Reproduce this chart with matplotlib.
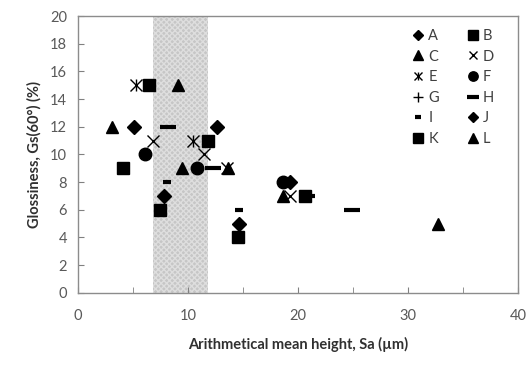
import matplotlib
matplotlib.use("Agg")
import matplotlib.pyplot as plt
from matplotlib.lines import Line2D

plt.rcParams['font.family'] = ['Lato', 'DejaVu Sans']

# Sa (um) and glossiness (%) for each sample group
names = ['A', 'B', 'C', 'D', 'E', 'F', 'G', 'H', 'I', 'J', 'K', 'L']
sa = {
    'A': [5.1, 12.6],
    'B': [6.4, 11.8, 20.6],
    'C': [3.1, 9.4, 18.6],
    'D': [6.8, 11.4, 13.5, 19.3],
    'E': [5.3, 10.4],
    'F': [6.1, 10.8, 18.6],
    'G': [],
    'H': [8.2, 12.3, 24.9],
    'I': [8.1, 14.6, 21.2],
    'J': [7.8, 14.6, 19.3],
    'K': [4.1, 7.4, 14.5],
    'L': [9.1, 13.6, 32.7],
}
gs = {
    'A': [12, 12],
    'B': [15, 11, 7],
    'C': [12, 9, 7],
    'D': [11, 10, 9, 7],
    'E': [15, 11],
    'F': [10, 9, 8],
    'G': [],
    'H': [12, 9, 6],
    'I': [8, 6, 7],
    'J': [7, 5, 8],
    'K': [9, 6, 4],
    'L': [15, 9, 5],
}
band = (6.8, 11.8)

style = {
    'A': dict(marker='D', ms=7),
    'B': dict(marker='s', ms=9),
    'C': dict(marker='^', ms=9),
    'D': dict(marker='x', ms=8, mew=1.0),
    'E': dict(marker='x', ms=8, mew=1.0),
    'F': dict(marker='o', ms=9),
    'G': dict(marker='+', ms=9, mew=1.0),
    'H': dict(marker='_', ms=11, mew=3),
    'I': dict(marker='_', ms=6, mew=3),
    'J': dict(marker='D', ms=7),
    'K': dict(marker='s', ms=9),
    'L': dict(marker='^', ms=9),
}

fig = plt.figure(figsize=(5.32, 3.73), dpi=100)
ax = fig.add_axes([0.147, 0.215, 0.827, 0.742])

ax.axvspan(band[0], band[1], facecolor='#c6c6c6', edgecolor='#dedede',
           hatch='xxxxxx', lw=0, zorder=0)

handles = {}
for n in names:
    st = style[n]
    h, = ax.plot(sa[n], gs[n], ls='none', color='black', zorder=3, **st)
    if n == 'E':
        # asterisk: x with a vertical stroke
        ax.plot(sa[n], gs[n], ls='none', color='black', marker='|',
                ms=8, mew=1.0, zorder=3)
        h = (h, Line2D([], [], ls='none', color='black', marker='|', ms=8, mew=1.0))
    handles[n] = h

order = ['A', 'C', 'E', 'G', 'I', 'K', 'B', 'D', 'F', 'H', 'J', 'L']
leg = ax.legend([handles[n] for n in order], order, ncol=2, loc='upper right',
                bbox_to_anchor=(0.965, 0.985), frameon=False, fontsize=10.5,
                markerscale=0.75, handlelength=0.8, handletextpad=0.3,
                columnspacing=1.9, labelspacing=0.45, borderaxespad=0.2)
for t in leg.get_texts():
    t.set_color('#404040')

ax.set_xlim(0, 40)
ax.set_ylim(0, 20)
ax.set_xticks([0, 10, 20, 30, 40])
ax.set_xticks([5, 15, 25, 35], minor=True)
ax.set_yticks(range(0, 21, 2))
ax.tick_params(axis='both', which='both', direction='in', length=4,
               color='#808080', labelcolor='#595959', labelsize=10.5,
               top=False, right=False)
ax.tick_params(axis='x', pad=12)
ax.tick_params(axis='y', pad=8)
for s in ax.spines.values():
    s.set_color('#8c8c8c')
    s.set_linewidth(1.0)

ax.set_xlabel('Arithmetical mean height, Sa (\u00b5m)', fontsize=10.5,
              fontweight='bold', color='#303030', labelpad=10)
ax.set_ylabel('Glossiness, Gs(60\u00b0) (%)', fontsize=10.5,
              fontweight='bold', color='#303030', labelpad=6)

fig.savefig('out.png', dpi=100)
